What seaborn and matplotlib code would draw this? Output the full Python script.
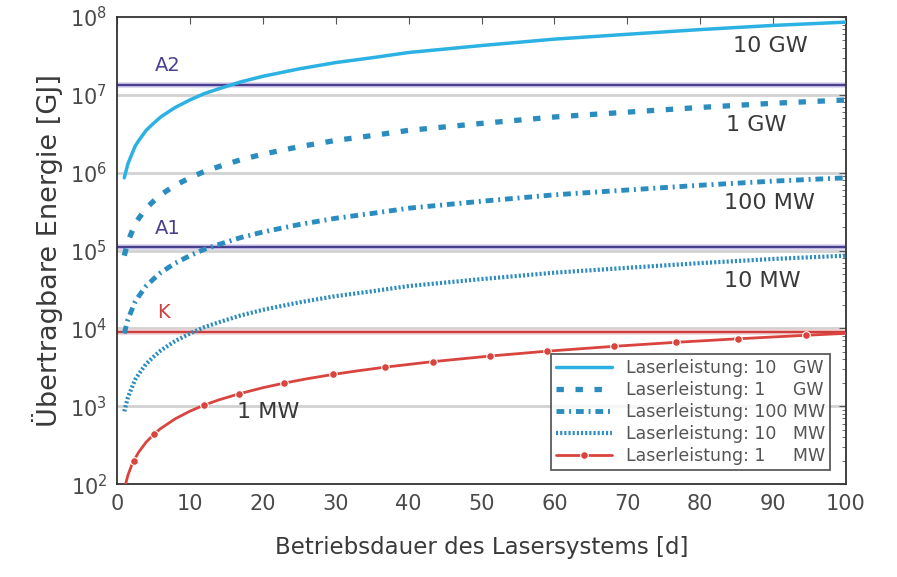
import matplotlib
matplotlib.use("Agg")
import matplotlib.pyplot as plt
import matplotlib.ticker as mticker
import seaborn as sns

# data (energy in GJ vs. operating time in days)
days = [1, 1.5, 2, 2.5, 3, 4, 5, 6, 7, 8, 10, 12, 14, 17, 20, 25, 30, 35, 40, 50, 60, 70, 80, 90, 100]
e_10gw = [8.6e5, 1.3e6, 1.7e6, 2.2e6, 2.6e6, 3.5e6, 4.3e6, 5.2e6, 6.0e6, 6.9e6, 8.6e6, 1.04e7, 1.2e7,
          1.47e7, 1.73e7, 2.16e7, 2.6e7, 3.0e7, 3.5e7, 4.3e7, 5.2e7, 6.0e7, 6.9e7, 7.8e7, 8.6e7]
e_1gw = [8.6e4, 1.3e5, 1.7e5, 2.2e5, 2.6e5, 3.5e5, 4.3e5, 5.2e5, 6.0e5, 6.9e5, 8.6e5, 1.04e6, 1.2e6,
         1.47e6, 1.73e6, 2.16e6, 2.6e6, 3.0e6, 3.5e6, 4.3e6, 5.2e6, 6.0e6, 6.9e6, 7.8e6, 8.6e6]
e_100mw = [8.6e3, 1.3e4, 1.7e4, 2.2e4, 2.6e4, 3.5e4, 4.3e4, 5.2e4, 6.0e4, 6.9e4, 8.6e4, 1.04e5, 1.2e5,
           1.47e5, 1.73e5, 2.16e5, 2.6e5, 3.0e5, 3.5e5, 4.3e5, 5.2e5, 6.0e5, 6.9e5, 7.8e5, 8.6e5]
e_10mw = [8.6e2, 1.3e3, 1.7e3, 2.2e3, 2.6e3, 3.5e3, 4.3e3, 5.2e3, 6.0e3, 6.9e3, 8.6e3, 1.04e4, 1.2e4,
          1.47e4, 1.73e4, 2.16e4, 2.6e4, 3.0e4, 3.5e4, 4.3e4, 5.2e4, 6.0e4, 6.9e4, 7.8e4, 8.6e4]
days_1mw = [1, 1.5, 2, 2.3, 3, 4, 5.1, 6, 8, 10, 11.9, 14, 16.7, 20, 22.9, 26, 29.6, 33, 36.8,
            43.3, 51.2, 59.0, 68.2, 76.7, 85.2, 94.5, 100]
e_1mw = [86, 130, 173, 199, 259, 346, 441, 518, 691, 864, 1030, 1210, 1440, 1730, 1980, 2250, 2560,
         2850, 3180, 3740, 4420, 5100, 5890, 6630, 7360, 8160, 8640]
marker_days_1mw = [2.3, 5.1, 11.9, 16.7, 22.9, 29.6, 36.8, 43.3, 51.2, 59.0, 68.2, 76.7, 85.2, 94.5]

# reference thresholds
thresholds = {"A2": 1.35e7, "A1": 1.12e5, "K": 9.0e3}
curve_labels = ["10 GW", "1 GW", "100 MW", "10 MW", "1 MW"]
legend_labels = ["Laserleistung: 10   GW", "Laserleistung: 1     GW",
                 "Laserleistung: 100 MW", "Laserleistung: 10   MW",
                 "Laserleistung: 1     MW"]

sns.set_style("white")
plt.rcParams['font.family'] = ['DejaVu Sans']
plt.rcParams['mathtext.fontset'] = 'dejavusans'
text_col = '#3a3a3a'
purple = '#4a4090'
blue_light = '#2cb2e2'
blue_dark = '#2a8cbf'
red = '#d9443e'

fig = plt.figure(figsize=(8.97, 5.77), dpi=100)
ax = fig.add_axes([0.1304, 0.161, 0.8128, 0.8095])
ax.set_yscale('log')

# decade grid lines
for k in range(3, 8):
    ax.axhline(10.0 ** k, color='#d2d2d2', lw=2, zorder=0)

# threshold lines (with light halo)
for key, col, halo in [("A2", purple, '#d8d2ec'), ("A1", purple, '#d8d2ec'), ("K", '#cc4040', '#f3d2d2')]:
    ax.axhline(thresholds[key], color=halo, lw=4, zorder=1)
    ax.axhline(thresholds[key], color=col, lw=1.7, zorder=1)

sns.lineplot(x=days, y=e_10gw, ax=ax, color=blue_light, lw=2.5,
             label=legend_labels[0], zorder=3)
sns.lineplot(x=days, y=e_1gw, ax=ax, color=blue_dark, lw=3.8,
             linestyle=(0, (1.4, 2.2)), label=legend_labels[1], zorder=3)
sns.lineplot(x=days, y=e_100mw, ax=ax, color=blue_dark, lw=3.5,
             linestyle=(0, (1.6, 1.0, 0.4, 1.0)), label=legend_labels[2], zorder=3)
sns.lineplot(x=days, y=e_10mw, ax=ax, color=blue_dark, lw=3,
             linestyle=(0, (0.5, 0.5)), label=legend_labels[3], zorder=3)
sns.lineplot(x=days_1mw, y=e_1mw, ax=ax, color=red, lw=2,
             marker='o', markersize=5.5,
             markevery=[days_1mw.index(d) for d in marker_days_1mw],
             label=legend_labels[4], zorder=3)

# annotations
ax.text(0.845, 0.925, curve_labels[0], transform=ax.transAxes, fontsize=16, color=text_col)
ax.text(0.835, 0.755, curve_labels[1], transform=ax.transAxes, fontsize=16, color=text_col)
ax.text(0.832, 0.588, curve_labels[2], transform=ax.transAxes, fontsize=16, color=text_col)
ax.text(0.832, 0.422, curve_labels[3], transform=ax.transAxes, fontsize=16, color=text_col)
ax.text(0.165, 0.142, curve_labels[4], transform=ax.transAxes, fontsize=16, color=text_col)
ax.text(0.052, 0.885, "A2", transform=ax.transAxes, fontsize=14, color=purple)
ax.text(0.052, 0.535, "A1", transform=ax.transAxes, fontsize=14, color=purple)
ax.text(0.055, 0.355, "K", transform=ax.transAxes, fontsize=14, color='#cc4040')

ax.set_xlim(0, 100)
ax.set_ylim(1e2, 1e8)
ax.xaxis.set_major_locator(mticker.MultipleLocator(10))
ax.yaxis.set_major_formatter(mticker.LogFormatterMathtext())
ax.tick_params(axis='both', which='both', direction='in', top=True, right=True,
               colors='#555555', labelcolor='#4a4a4a', labelsize=15, pad=7)
ax.tick_params(axis='both', which='major', length=5)
ax.tick_params(axis='y', which='minor', length=3)
for s in ax.spines.values():
    s.set_color('#333333')
    s.set_linewidth(1.3)

ax.set_xlabel('Betriebsdauer des Lasersystems [d]', fontsize=16.5, color=text_col, labelpad=16)
ax.set_ylabel('Übertragbare Energie [GJ]', fontsize=19.5, color=text_col, labelpad=5)

leg = ax.legend(loc='lower right', bbox_to_anchor=(0.99, 0.012), fontsize=12.5,
                frameon=True, fancybox=False, handlelength=3.2,
                borderpad=0.3, labelspacing=0.22, handletextpad=0.8)
leg.get_frame().set_edgecolor('#333333')
leg.get_frame().set_linewidth(1.3)
for t in leg.get_texts():
    t.set_color('#555555')

fig.savefig('out.png', dpi=100)
